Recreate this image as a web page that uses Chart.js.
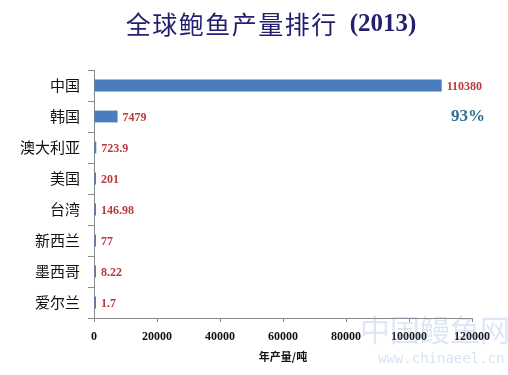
<!DOCTYPE html>
<html>
<head>
<meta charset="utf-8">
<script src="https://cdn.jsdelivr.net/npm/chart.js@4.4.0/dist/chart.umd.min.js"></script>
<style>
  html, body { margin: 0; padding: 0; background: #fff; }
  #wrap { width: 508px; height: 375px; }
</style>
</head>
<body>
<div id="wrap"><canvas id="c"></canvas></div>
<script>
// data
const countries = ["中国", "韩国", "澳大利亚", "美国", "台湾", "新西兰", "墨西哥", "爱尔兰"];
const output = [110380, 7479, 723.9, 201, 146.98, 77, 8.22, 1.7];
const valueLabels = ["110380", "7479", "723.9", "201", "146.98", "77", "8.22", "1.7"];
const xTicks = [0, 20000, 40000, 60000, 80000, 100000, 120000];
const shareNote = "93%";

const serif = "'Liberation Serif', 'Times New Roman', serif";
const cjk = "'Noto Sans CJK SC', sans-serif";

// title, bar value labels, share note, watermark
const extras = {
    id: "extras",
    afterDatasetsDraw(chart) {
        const ctx = chart.ctx;
        const meta = chart.getDatasetMeta(0);
        ctx.save();
        // title: chinese part + bold serif year
        const t1 = "全球鲍鱼产量排行";
        const t2 = "(2013)";
        const gap = 12;
        ctx.font = "400 25px " + cjk;
        const w1 = ctx.measureText(t1).width + 8 * 1.5;
        ctx.font = "bold 25px " + serif;
        const w2 = ctx.measureText(t2).width;
        let tx = 271 - (w1 + gap + w2) / 2;
        ctx.textBaseline = "middle";
        ctx.textAlign = "left";
        ctx.fillStyle = "#231f6e";
        ctx.font = "400 25px " + cjk;
        // slight letter spacing like the original
        let cx = tx;
        for (const ch of t1) {
            ctx.fillText(ch, cx, 24);
            cx += ctx.measureText(ch).width + 1.5;
        }
        ctx.font = "bold 25px " + serif;
        ctx.fillText(t2, tx + w1 + gap, 25);

        // value labels
        ctx.font = "bold 12px " + serif;
        ctx.fillStyle = "#b83a3e";
        meta.data.forEach((bar, i) => {
            ctx.fillText(valueLabels[i], bar.x + 5, bar.y + 1);
        });

        // share of china
        const b1 = meta.data[1];
        ctx.font = "bold 17px " + serif;
        ctx.fillStyle = "#2f7190";
        ctx.fillText(shareNote, 451, b1.y);

        // faint watermark
        ctx.font = "30px " + cjk;
        ctx.fillStyle = "rgba(120,160,215,0.25)";
        ctx.fillText("中国鳗鱼网", 360, 330);
        ctx.font = "14px 'DejaVu Sans Mono', monospace";
        ctx.fillStyle = "rgba(140,175,215,0.35)";
        ctx.fillText("www.chinaeel.cn", 378, 359);
        ctx.restore();
    }
};

new Chart(document.getElementById("c"), {
    type: "bar",
    data: {
        labels: countries,
        datasets: [{
            data: output,
            backgroundColor: "#4a7dbd",
            borderWidth: 0,
            barPercentage: 0.38,
            categoryPercentage: 1,
            minBarLength: 2
        }]
    },
    options: {
        indexAxis: "y",
        responsive: true,
        maintainAspectRatio: false,
        animation: false,
        layout: { padding: { top: 70, right: 36, left: 0, bottom: 12 } },
        plugins: {
            legend: { display: false },
            tooltip: { enabled: false }
        },
        scales: {
            x: {
                min: 0,
                max: 120000,
                afterBuildTicks(scale) {
                    scale.ticks = xTicks.map(v => ({ value: v }));
                },
                afterFit(scale) { scale.height = 45; },
                grid: {
                    drawOnChartArea: false,
                    tickLength: 4,
                    color: "#8a8a8a"
                },
                border: { color: "#8a8a8a", width: 1 },
                ticks: {
                    padding: 8,
                    color: "#111",
                    font: { family: serif, size: 12, weight: "bold" },
                    callback: v => String(v)
                },
                title: {
                    display: true,
                    text: "年产量/吨",
                    color: "#111",
                    padding: { top: 0, bottom: 0 },
                    font: { family: cjk, size: 11, weight: "bold" }
                }
            },
            y: {
                afterFit(scale) { scale.width = 94; },
                grid: {
                    drawOnChartArea: false,
                    offset: true,
                    tickLength: 6,
                    color: "#8a8a8a"
                },
                border: { color: "#8a8a8a", width: 1 },
                ticks: {
                    padding: 8,
                    color: "#111",
                    font: { family: cjk, size: 15 }
                }
            }
        }
    },
    plugins: [extras]
});
</script>
</body>
</html>
